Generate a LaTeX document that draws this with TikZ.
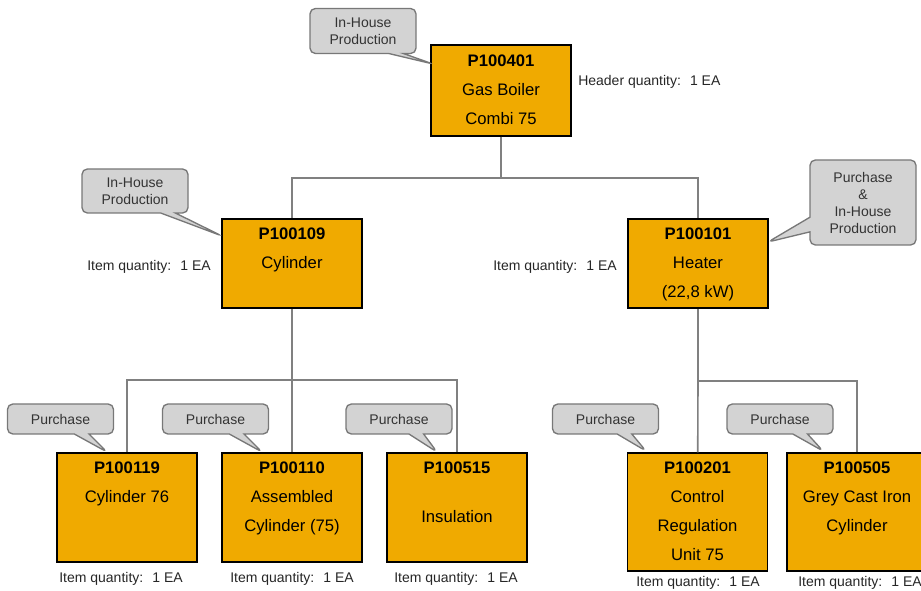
\documentclass[tikz,border=0pt]{standalone}
\usepackage{fontspec}
\setmainfont{Liberation Sans}
\usepackage{tikz}
\usetikzlibrary{shapes.callouts}
\definecolor{partorange}{RGB}{240,170,0}
\definecolor{notefill}{RGB}{211,211,211}
\definecolor{notedraw}{RGB}{120,120,120}
\definecolor{linkgray}{RGB}{128,128,128}
\newcommand{\parttext}[2]{\parbox[c][#1][t]{105pt}{\centering\rule{0pt}{15.7pt}#2}}
\tikzset{
    part/.style = {rectangle, draw=black, line width=1.1pt, fill=partorange, inner sep=0pt, font=\fontsize{12.5}{21.75}\selectfont},
    note/.style = {rectangle callout, rounded corners=4pt, draw=notedraw, fill=notefill, line width=1pt, align=center, text=black!80, font=\fontsize{10.5}{12.75}\selectfont, minimum width=79.5pt, minimum height=22.5pt, inner sep=1pt, callout pointer width=11pt},
    qty/.style = {inner sep=0pt, text=black!85, font=\fontsize{10.5}{12.75}\selectfont},
}
\begin{document}
\begin{tikzpicture}[
	x=0.75pt,
	y=-0.75pt
]
\tikzset{
    link/.style = {-, line width=1.2pt, linkgray},
}
\useasboundingbox (0,0) rectangle (921,591);
\node[part] at (501,90.5) (p401) {\parttext{68pt}{\textbf{P100401}\\Gas Boiler\\Combi 75}};
\node[part] at (292,263.5) (p109) {\parttext{67pt}{\textbf{P100109}\\Cylinder}};
\node[part] at (698,263.5) (p101) {\parttext{67pt}{\textbf{P100101}\\Heater\\(22,8 kW)}};
\node[part] at (127,507.5) (p119) {\parttext{82pt}{\textbf{P100119}\\Cylinder 76}};
\node[part] at (292,507.5) (p110) {\parttext{82pt}{\textbf{P100110}\\Assembled\\Cylinder (75)}};
\node[part] at (457,507.5) (p515) {\parttext{82pt}{\textbf{P100515}\\[15pt]Insulation}};
\node[part] at (697.5,512) (p201) {\parttext{88.5pt}{\textbf{P100201}\\Control\\Regulation\\Unit 75}};
\node[part] at (857,512) (p505) {\parttext{88.5pt}{\textbf{P100505}\\Grey Cast Iron\\Cylinder}};
%
\node[note, minimum height=33.75pt, callout absolute pointer={(433,64)}] at (363,31) (n401) {In-House\\Production};
\node[note, minimum height=33pt, callout absolute pointer={(222,236)}] at (135,191) (n109) {In-House\\Production};
\node[note, minimum height=63.75pt, callout absolute pointer={(768,242)}] at (863,202.5) (n101) {Purchase\\\&\\In-House\\Production};
\node[note, callout absolute pointer={(107,452)}] at (60.5,419) (n119) {Purchase};
\node[note, callout absolute pointer={(262,452)}] at (215.5,419) (n110) {Purchase};
\node[note, callout absolute pointer={(437,452)}] at (399,419) (n515) {Purchase};
\node[note, callout absolute pointer={(646,451)}] at (605.5,419) (n201) {Purchase};
\node[note, callout absolute pointer={(823,451)}] at (780,419) (n505) {Purchase};
%
\node[qty, anchor=west] at (578,82) (q401) {Header quantity:~ 1 EA};
\node[qty, anchor=east] at (211,267) (q109) {Item quantity:~ 1 EA};
\node[qty, anchor=east] at (617,267) (q101) {Item quantity:~ 1 EA};
\node[qty] at (121,579) (q119) {Item quantity:~ 1 EA};
\node[qty] at (292,579) (q110) {Item quantity:~ 1 EA};
\node[qty] at (456,579) (q515) {Item quantity:~ 1 EA};
\node[qty] at (698,583) (q201) {Item quantity:~ 1 EA};
\node[qty] at (860,583) (q505) {Item quantity:~ 1 EA};
%
\coordinate (j401) at (501,178);
\coordinate (j109) at (292,380);
\coordinate (j101) at (698,381);
\draw[link] (p401) -- (j401);
\draw[link] (j401) -| (p109);
\draw[link] (j401) -| (p101);
%
\draw[link] (p109) -- (j109);
\draw[link] (j109) -| (p119);
\draw[link] (j109) -- (p110);
\draw[link] (j109) -| (p515);
%
\draw[link] (p101) -- (j101);
\draw[link] (j101) -- (p201);
\draw[link] (j101) -| (p505);
\end{tikzpicture}
\end{document}
